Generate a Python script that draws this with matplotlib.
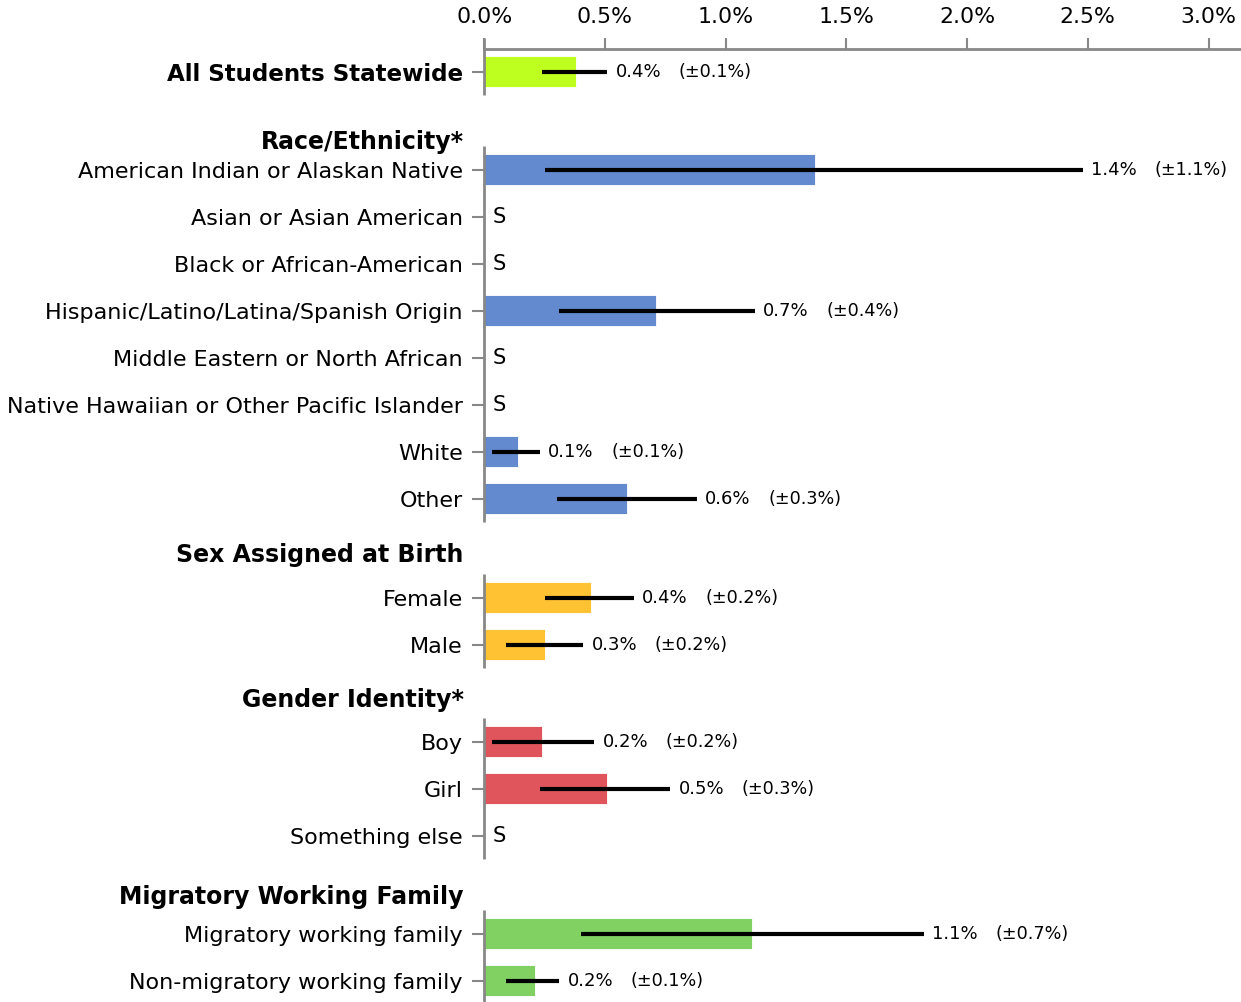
import numpy as np
import matplotlib
matplotlib.use('Agg')
import matplotlib.pyplot as plt
import matplotlib.transforms as mtransforms

# group headers and the rows under them
headers = ['Race/Ethnicity*', 'Sex Assigned at Birth', 'Gender Identity*', 'Migratory Working Family']
labels = [
    ['All Students Statewide'],
    ['American Indian or Alaskan Native', 'Asian or Asian American', 'Black or African-American',
     'Hispanic/Latino/Latina/Spanish Origin', 'Middle Eastern or North African',
     'Native Hawaiian or Other Pacific Islander', 'White', 'Other'],
    ['Female', 'Male'],
    ['Boy', 'Girl', 'Something else'],
    ['Migratory working family', 'Non-migratory working family'],
]
# percent values, None = suppressed (S)
values = [
    [0.38],
    [1.37, None, None, 0.71, None, None, 0.14, 0.59],
    [0.44, 0.25],
    [0.24, 0.51, None],
    [1.11, 0.21],
]
err_lo = [
    [0.24],
    [0.25, None, None, 0.31, None, None, 0.03, 0.30],
    [0.25, 0.09],
    [0.03, 0.23, None],
    [0.40, 0.09],
]
err_hi = [
    [0.51],
    [2.48, None, None, 1.12, None, None, 0.23, 0.88],
    [0.62, 0.41],
    [0.455, 0.77, None],
    [1.82, 0.31],
]
val_txt = [
    ['0.4%'],
    ['1.4%', '', '', '0.7%', '', '', '0.1%', '0.6%'],
    ['0.4%', '0.3%'],
    ['0.2%', '0.5%', ''],
    ['1.1%', '0.2%'],
]
moe_txt = [
    ['(±0.1%)'],
    ['(±1.1%)', '', '', '(±0.4%)', '', '', '(±0.1%)', '(±0.3%)'],
    ['(±0.2%)', '(±0.2%)'],
    ['(±0.2%)', '(±0.3%)', ''],
    ['(±0.7%)', '(±0.1%)'],
]
colors = ['#bfff1f', '#6389cf', '#ffc233', '#e0555c', '#80d062']

# layout (pixel rows of the figure)
group_start = [72, 170, 598, 742, 934]
header_gap = [0, 28, 43, 42, 37]
step = 47
W, H = 1241, 1002
x0 = 484.3
ppu = 241.4

fig = plt.figure(figsize=(W / 100, H / 100), dpi=100)
ax = fig.add_axes([x0 / W, 0, 1 - x0 / W, (H - 49) / H])
ax.set_xlim(0, (W - x0) / ppu)
ax.set_ylim(H, 49)

ticks_y, ticks_lab = [], []
for g in range(len(labels)):
    ys = [group_start[g] + i * step for i in range(len(labels[g]))]
    if g > 0:
        ax.text(-0.085, group_start[g] - header_gap[g], headers[g - 1], ha='right', va='center',
                fontsize=17, fontweight='bold', transform=ax.transData)
    top = ys[0] - 23.5 if g > 0 else 38
    ax.vlines(0, top, ys[-1] + 23.5, color='#888888', lw=2, clip_on=False)
    for i, y in enumerate(ys):
        ticks_y.append(y)
        ticks_lab.append(labels[g][i])
        v = values[g][i]
        if v is None:
            ax.text(0.035, y, 'S', ha='left', va='center', fontsize=15)
            continue
        ax.barh(y, v, height=31, color=colors[g], edgecolor='white', linewidth=0.6)
        ax.hlines(y, err_lo[g][i], err_hi[g][i], color='black', lw=3)
        tr1 = mtransforms.offset_copy(ax.transData, fig=fig, x=6, y=0, units='points')
        tr2 = mtransforms.offset_copy(ax.transData, fig=fig, x=51.5, y=0, units='points')
        ax.text(err_hi[g][i], y, val_txt[g][i], transform=tr1, ha='left', va='center', fontsize=13)
        ax.text(err_hi[g][i], y, moe_txt[g][i], transform=tr2, ha='left', va='center', fontsize=12.7)

ax.set_yticks(ticks_y)
ax.set_yticklabels(ticks_lab, fontsize=16)
for t in ax.get_yticklabels():
    if t.get_text() == 'All Students Statewide':
        t.set_fontweight('bold')
        t.set_fontsize(16.6)
ax.tick_params(axis='y', length=9, width=1.5, color='#888888', pad=6.5)

ax.xaxis.tick_top()
ax.set_xticks(np.arange(0, 3.01, 0.5))
ax.set_xticklabels(['%.1f%%' % t for t in np.arange(0, 3.01, 0.5)], fontsize=15.8)
ax.tick_params(axis='x', length=8, width=1.5, color='#888888', pad=8)

for s in ['left', 'right', 'bottom']:
    ax.spines[s].set_visible(False)
ax.spines['top'].set_color('#888888')
ax.spines['top'].set_linewidth(2)

fig.savefig('out.png', dpi=100)
